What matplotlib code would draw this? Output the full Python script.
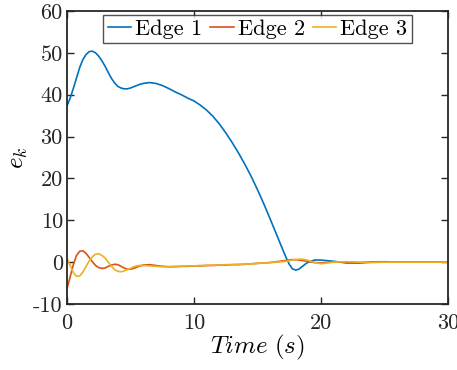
import matplotlib
matplotlib.use("Agg")
import matplotlib.pyplot as plt

# time stamps (s), finer where the curves bend sharply
time_s = [0.0, 0.25, 0.5, 0.75, 1.0, 1.25, 1.5, 1.75, 2.0, 2.25, 2.5, 2.75,
          3.0, 3.25, 3.5, 3.75, 4.0, 4.25, 4.5, 4.75, 5.0, 5.25, 5.5, 5.75, 6.0,
          6.5, 7.0, 7.5, 8.0, 8.5, 9.0, 9.5, 10.0, 10.5, 11.0, 11.5, 12.0, 12.5,
          13.0, 13.5, 14.0, 14.5, 15.0, 15.5, 16.0, 16.5, 17.0, 17.25, 17.5, 17.75,
          18.0, 18.25, 18.5, 18.75, 19.0, 19.5, 20.0,
          21.0, 22.0, 23.0, 24.0, 25.0, 26.0, 27.0, 28.0, 29.0, 30.0]

edge1 = [37.3, 39.2, 41.5, 44.0, 46.5, 48.4, 49.6, 50.3, 50.4, 50.0, 49.2, 48.1,
         46.8, 45.3, 43.9, 42.8, 42.0, 41.6, 41.4, 41.4, 41.6, 41.9, 42.2, 42.5, 42.7,
         42.9, 42.7, 42.2, 41.5, 40.7, 40.0, 39.2, 38.5, 37.5, 36.3, 34.8, 33.0, 30.9,
         28.6, 26.1, 23.4, 20.5, 17.3, 13.9, 10.3, 6.6, 2.9, 1.1, -0.5, -1.6,
         -1.9, -1.7, -1.1, -0.5, 0.0, 0.5, 0.5,
         0.2, -0.2, -0.2, 0.0, 0.1, 0.0, 0.0, 0.0, 0.0, 0.0]

edge2 = [-6.3, -3.5, -0.6, 1.6, 2.6, 2.7, 2.1, 1.1, 0.1, -0.8, -1.3, -1.5,
         -1.4, -1.0, -0.7, -0.5, -0.6, -1.0, -1.4, -1.7, -1.7, -1.5, -1.2, -0.9, -0.7,
         -0.6, -0.8, -1.0, -1.1, -1.1, -1.0, -1.0, -0.9, -0.9, -0.8, -0.8, -0.7, -0.7,
         -0.6, -0.6, -0.5, -0.4, -0.3, -0.2, -0.1, 0.1, 0.3, 0.4, 0.5, 0.6,
         0.6, 0.5, 0.4, 0.3, 0.1, -0.1, -0.2,
         0.1, 0.0, -0.1, 0.0, 0.0, 0.0, 0.0, 0.0, 0.0, 0.0]

edge3 = [0.9, -0.8, -2.5, -3.4, -3.3, -2.4, -1.0, 0.3, 1.3, 1.9, 2.0, 1.6,
         1.0, 0.0, -1.0, -1.8, -2.2, -2.3, -2.1, -1.8, -1.5, -1.1, -0.9, -0.8, -0.8,
         -0.9, -1.0, -1.1, -1.1, -1.0, -1.0, -0.9, -0.9, -0.8, -0.8, -0.7, -0.7, -0.6,
         -0.6, -0.5, -0.5, -0.4, -0.3, -0.2, -0.1, 0.0, 0.1, 0.2, 0.3, 0.5,
         0.6, 0.7, 0.7, 0.6, 0.4, -0.1, -0.4,
         0.0, 0.1, 0.0, -0.1, 0.0, 0.0, 0.0, 0.0, 0.0, 0.0]

labels = ["Edge 1", "Edge 2", "Edge 3"]
colors = ["#0072BD", "#D95319", "#EDB120"]

plt.rcParams["font.family"] = ["cmr10", "DejaVu Serif"]
plt.rcParams["mathtext.fontset"] = "cm"
plt.rcParams["axes.unicode_minus"] = False
plt.rcParams["axes.formatter.use_mathtext"] = False

fig = plt.figure(figsize=(4.57, 3.70), dpi=100)
ax = fig.add_axes([0.1466, 0.1784, 0.8337, 0.7919])

for series, label, color in zip([edge1, edge2, edge3], labels, colors):
    ax.plot(time_s, series, color=color, linewidth=1.2, label=label)

ax.set_xlim(0, 30)
ax.set_ylim(-10, 60)
ax.set_xticks([0, 10, 20, 30])
ax.set_yticks([-10, 0, 10, 20, 30, 40, 50, 60])
ax.set_xticklabels(["0", "10", "20", "30"])
ax.set_yticklabels(["-10", "0", "10", "20", "30", "40", "50", "60"])
ax.tick_params(direction="in", top=True, right=True, length=5, width=1.0,
               labelsize=16, colors="#262626")
ax.tick_params(axis="x", pad=7)
ax.tick_params(axis="y", pad=3)
for spine in ax.spines.values():
    spine.set_linewidth(1.3)
    spine.set_color("#262626")

ax.set_xlabel(r"$Time\ (s)$", fontsize=18, labelpad=0)
ax.set_ylabel(r"$e_k$", fontsize=18, labelpad=2)

leg = ax.legend(loc="upper center", ncol=3, fontsize=16, frameon=True,
                fancybox=False, edgecolor="#262626", handlelength=1.05,
                handletextpad=0.18, columnspacing=0.36, borderpad=0.2,
                borderaxespad=0.18, bbox_to_anchor=(0.5, 1.0))
leg.get_frame().set_linewidth(1.0)

fig.savefig("out.png", dpi=100)
